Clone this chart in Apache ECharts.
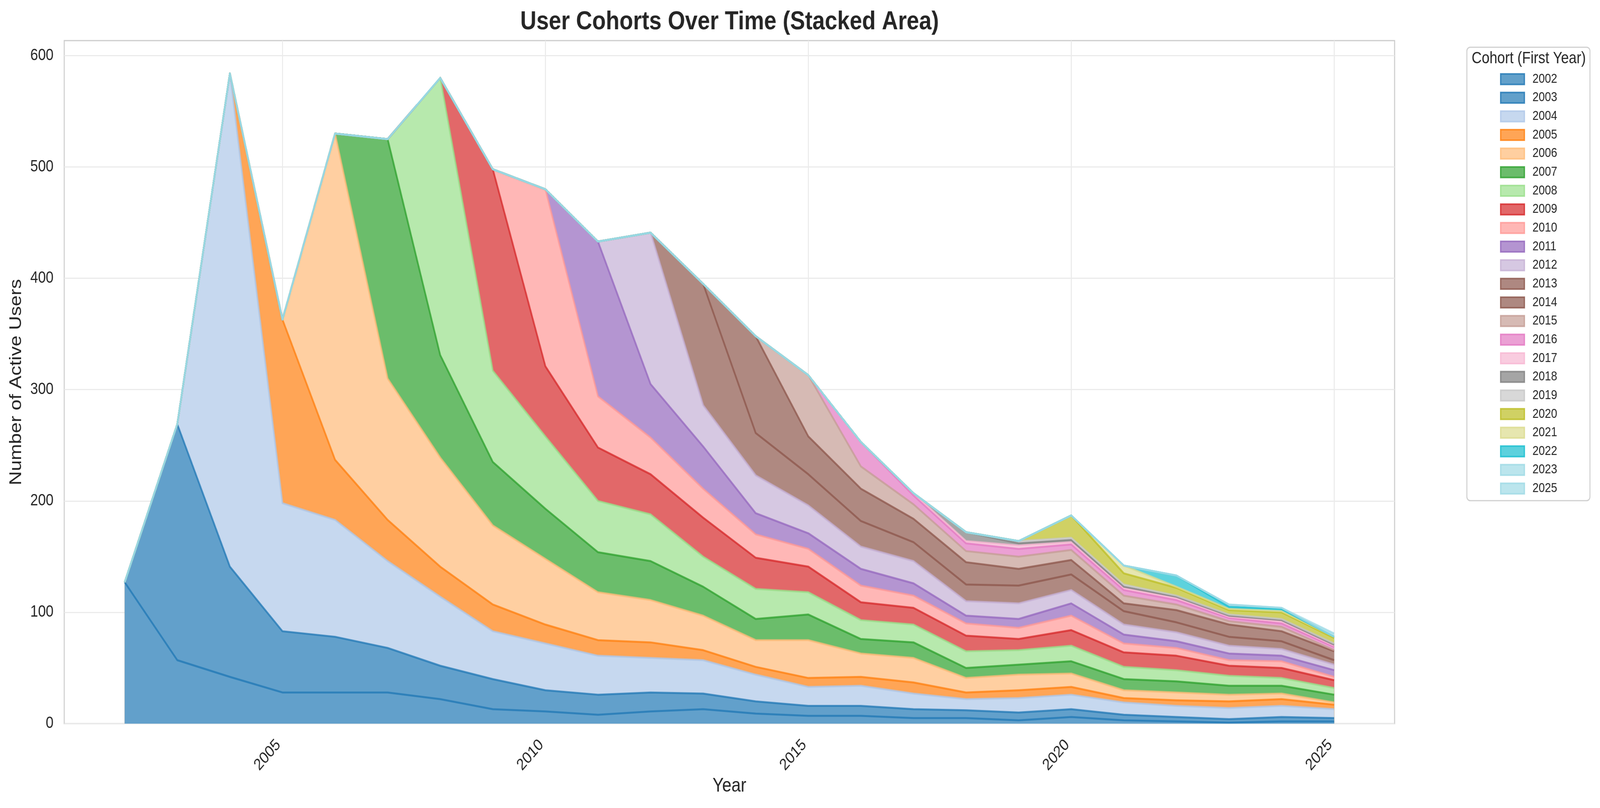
<!DOCTYPE html>
<html>
<head>
<meta charset="utf-8">
<script src="https://cdn.jsdelivr.net/npm/echarts@6/dist/echarts.min.js"></script>
<style>
html,body{margin:0;padding:0;background:#ffffff;overflow:hidden;width:100%;height:100%;}
#chart{position:absolute;left:0;top:0;width:4783px;height:2069px;transform-origin:0 0;}
</style>
</head>
<body>
<div id="chart"></div>
<script>
// ---- data ----
const years = [2002,2003,2004,2005,2006,2007,2008,2009,2010,2011,2012,2013,2014,2015,2016,2017,2018,2019,2020,2021,2022,2023,2024,2025];
const cohortNames = ['2002','2003','2004','2005','2006','2007','2008','2009','2010','2011','2012','2013','2014','2015','2016','2017','2018','2019','2020','2021','2022','2023','2025'];
const xTicks = [2005,2010,2015,2020,2025];
const yTicks = [0,100,200,300,400,500,600];

const c2002 = [127,57,42,28,28,28,22,13,11,8, 11,13,9,7,7,5,5,3,6,3, 2,1,2,2];
const c2003 = [0,212,99,55,50,40,30,27,19,18, 17,14,11,9,9,8,7,7,7,5, 4,3,4,3];
const c2004 = [0,0,443,115,105,78,62,43,42,35, 31,30,24,17,18,14,10,13,13,11, 10,10,10,8];
const c2005 = [0,0,0,165,54,37,27,24,17,14, 14,9,7,8,8,10,6,7,7,4, 5,6,6,4];
const c2006 = [0,0,0,0,293,127,98,71,59,43, 38,31,24,34,21,22,13,14,12,7, 7,6,5,2];
const c2007 = [0,0,0,0,0,215,92,57,45,36, 35,26,19,23,13,14,9,9,11,10, 10,8,7,7];
const c2008 = [0,0,0,0,0,0,249,82,65,46, 42,27,27,20,17,16,15,13,14,11, 10,9,7,6];
const c2009 = [0,0,0,0,0,0,0,181,63,48, 36,35,28,23,16,15,14,10,14,13, 13,9,9,7];
const c2010 = [0,0,0,0,0,0,0,0,159,46, 33,26,21,16,15,11,11,10,13,8, 7,5,6,3];
const c2011 = [0,0,0,0,0,0,0,0,0,139, 48,38,19,14,15,11,7,8,11,8, 6,6,5,6];
const c2012 = [0,0,0,0,0,0,0,0,0,0, 136,37,34,25,20,20,13,14,12,9, 8,7,6,5];
const c2013 = [0,0,0,0,0,0,0,0,0,0, 0,109,38,28,23,17,15,16,14,12, 9,8,7,4];
const c2014 = [0,0,0,0,0,0,0,0,0,0, 0,0,87,34,29,21,20,15,13,7, 11,11,9,8];
const c2015 = [0,0,0,0,0,0,0,0,0,0, 0,0,0,55,20,13,10,11,9,7, 5,3,4,1];
const c2016 = [0,0,0,0,0,0,0,0,0,0, 0,0,0,0,22,8,7,7,5,5, 4,3,3,3];
const c2017 = [0,0,0,0,0,0,0,0,0,0, 0,0,0,0,0,2,2,3,2,2, 2,1,2,1];
const c2018 = [0,0,0,0,0,0,0,0,0,0, 0,0,0,0,0,0,8,2,2,1, 1,1,1,1];
const c2019 = [0,0,0,0,0,0,0,0,0,0, 0,0,0,0,0,0,0,2,2,2, 1,1,1,1];
const c2020 = [0,0,0,0,0,0,0,0,0,0, 0,0,0,0,0,0,0,0,20,10, 7,4,6,5];
const c2021 = [0,0,0,0,0,0,0,0,0,0, 0,0,0,0,0,0,0,0,0,7, 1,1,1,1];
const c2022 = [0,0,0,0,0,0,0,0,0,0, 0,0,0,0,0,0,0,0,0,0, 10,2,2,0];
const c2023 = [0,0,0,0,0,0,0,0,0,0, 0,0,0,0,0,0,0,0,0,0, 0,2,1,0];
const c2025 = [0,0,0,0,0,0,0,0,0,0, 0,0,0,0,0,0,0,0,0,0, 0,0,0,3];

const cohortValues = [c2002,c2003,c2004,c2005,c2006,c2007,c2008,c2009,c2010,c2011,c2012,c2013,c2014,c2015,c2016,c2017,c2018,c2019,c2020,c2021,c2022,c2023,c2025];

// cumulative (stacked) tops of every cohort layer
const stackedTops = cohortValues.map((_, k) =>
  years.map((y, j) => {
    let s = 0;
    for (let i = 0; i <= k; i++) s += cohortValues[i][j];
    return s;
  })
);

// ---- styles ----
const palette = ['#1f77b4','#1f77b4','#aec7e8','#ff7f0e','#ffbb78','#2ca02c','#98df8a','#d62728','#ff9896','#9467bd','#c5b0d5','#8c564b','#8c564b','#c49c94','#e377c2','#f7b6d2','#7f7f7f','#c7c7c7','#bcbd22','#dbdb8d','#17becf','#9edae5','#9edae5'];
function rgbParts(hex){
  const n = parseInt(hex.slice(1),16);
  return [(n>>16)&255, (n>>8)&255, n&255];
}
function rgba(hex, a){
  const p = rgbParts(hex);
  return 'rgba(' + p[0] + ',' + p[1] + ',' + p[2] + ',' + a + ')';
}
function onWhite(hex, a){
  const p = rgbParts(hex).map(c => Math.round(a * c + (1 - a) * 255));
  return 'rgb(' + p[0] + ',' + p[1] + ',' + p[2] + ')';
}
const FONT = "'Liberation Sans', Arial, Helvetica, sans-serif";
const TXT = '#262626';

// fit the 4783x2069 design into the actual viewport
const el = document.getElementById('chart');
el.style.transform = 'scale(' + (window.innerWidth / 4783) + ',' + (window.innerHeight / 2069) + ')';

const areaSeries = [];
for (let k = cohortNames.length - 1; k >= 0; k--) {
  areaSeries.push({
    name: cohortNames[k],
    type: 'line',
    symbol: 'none',
    silent: true,
    z: 2,
    data: years.map((y, j) => [y, stackedTops[k][j]]),
    lineStyle: { width: 0, opacity: 0 },
    areaStyle: { color: onWhite(palette[k], 0.7), opacity: 1, origin: 'start' },
    itemStyle: { color: palette[k] }
  });
}
const edgeSeries = cohortNames.map((name, k) => ({
  name: name,
  type: 'line',
  symbol: 'none',
  silent: true,
  z: 3,
  data: years.map((y, j) => [y, stackedTops[k][j]]),
  lineStyle: { color: rgba(palette[k], 0.75), width: 5, join: 'round' },
  itemStyle: { color: palette[k] }
}));

const chart = echarts.init(el, null, { renderer: 'canvas', width: 4783, height: 2069 });
chart.setOption({
  animation: false,
  backgroundColor: '#ffffff',
  textStyle: { fontFamily: FONT },
  grid: {
    left: 192, right: 614, top: 104, bottom: 216,
    show: true, borderColor: '#cccccc', borderWidth: 3, backgroundColor: 'transparent'
  },
  xAxis: {
    type: 'value',
    min: 2000.85, max: 2026.15,
    axisLine: { show: false },
    axisTick: { show: false, customValues: xTicks },
    axisLabel: {
      customValues: xTicks,
      rotate: 45, margin: 36, padding: [0, 17, 0, 0],
      fontSize: 41.7, color: TXT, fontFamily: FONT,
      formatter: v => String(v)
    },
    splitLine: { show: true, lineStyle: { color: '#ebebeb', width: 3 } },
    name: 'Year', nameLocation: 'middle', nameGap: 135,
    nameTextStyle: { fontSize: 50, color: TXT, fontFamily: FONT }
  },
  yAxis: {
    type: 'value',
    min: 0, max: 613.5,
    axisLine: { show: false },
    axisTick: { show: false, customValues: yTicks },
    axisLabel: {
      customValues: yTicks,
      margin: 32, fontSize: 41.7, color: TXT, fontFamily: FONT,
      formatter: v => String(v)
    },
    splitLine: { show: true, lineStyle: { color: '#ebebeb', width: 3 } },
    name: 'Number of Active Users', nameLocation: 'middle', nameGap: 118,
    nameTextStyle: { fontSize: 50, color: TXT, fontFamily: FONT }
  },
  legend: {
    orient: 'vertical',
    left: 4484, top: 186,
    padding: 0,
    itemWidth: 71, itemHeight: 27, itemGap: 14.35,
    icon: 'rect',
    selectedMode: false,
    data: cohortNames.map((n, i) => ({
      name: n,
      itemStyle: { color: rgba(palette[i], 0.7), borderColor: rgba(palette[i], 0.8), borderWidth: 4 }
    })),
    textStyle: { fontSize: 33.3, lineHeight: 33.3, color: TXT, fontFamily: FONT, padding: [0, 0, 0, 19] }
  },
  graphic: [
    {
      type: 'text', z: 10,
      style: {
        x: 2181, y: 56.7, text: 'User Cohorts Over Time (Stacked Area)',
        fill: TXT, font: "bold 66.7px 'Liberation Sans', Arial, sans-serif",
        textAlign: 'center', textVerticalAlign: 'middle'
      }
    },
    {
      type: 'rect', z: 1,
      shape: { x: 4385, y: 121, width: 368, height: 1161, r: 10 },
      style: { fill: '#ffffff', stroke: '#d0d0d0', lineWidth: 3 }
    },
    {
      type: 'text', z: 10,
      style: {
        x: 4570, y: 150.2, text: 'Cohort (First Year)',
        fill: TXT, font: "41.7px 'Liberation Sans', Arial, sans-serif",
        textAlign: 'center', textVerticalAlign: 'middle'
      }
    }
  ],
  series: areaSeries.concat(edgeSeries)
});
</script>
</body>
</html>
